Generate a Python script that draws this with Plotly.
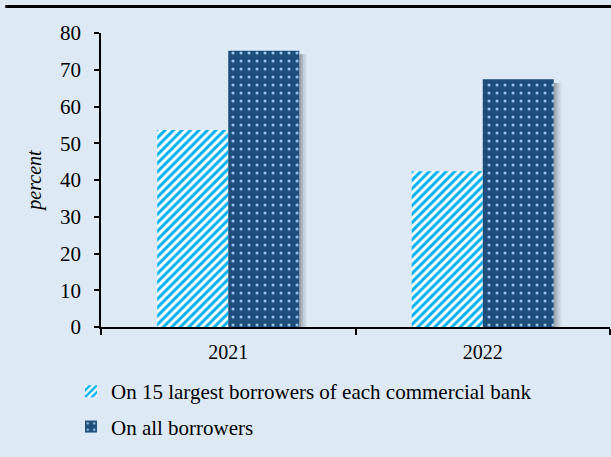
import plotly.graph_objects as go

years = ["2021", "2022"]
largest15 = [53.6, 42.4]
all_borrowers = [75.2, 67.4]
series_names = ["On 15 largest borrowers of each commercial bank", "On all borrowers"]

BG = "#DDEAF6"
FONT = "Liberation Serif"
BW = 0.279  # bar width in category units

fig = go.Figure()
fig.add_trace(go.Bar(
    x=years, y=largest15, name=series_names[0], legendgroup="a",
    offset=-BW, width=BW,
    marker=dict(color="white", line=dict(width=0),
                pattern=dict(shape="/", fgcolor="#00B0F0", bgcolor="white",
                             size=6, solidity=0.5, fillmode="replace")),
))
# soft shadow to the right of the dark bars
shadow_alphas = [0.45, 0.3, 0.18, 0.08]
step = 0.0075
for k, a in enumerate(shadow_alphas):
    fig.add_trace(go.Bar(
        x=years, y=[v - 1.0 for v in all_borrowers], showlegend=False, hoverinfo="skip",
        offset=BW + k * step, width=step,
        marker=dict(color=f"rgba(70,70,70,{a})", line=dict(width=0)),
    ))
fig.add_trace(go.Bar(
    x=years, y=all_borrowers, name=series_names[1], legendgroup="b",
    offset=0, width=BW,
    marker=dict(color="#1D4E7C", line=dict(width=0),
                pattern=dict(shape=".", fgcolor="#9CC3E6", bgcolor="#1D4E7C",
                             size=8, solidity=0.12, fillmode="replace")),
))

fig.update_layout(
    width=611, height=457,
    paper_bgcolor=BG, plot_bgcolor=BG,
    margin=dict(l=101, r=1, t=33, b=130),
    barmode="overlay",
    font=dict(family=FONT, size=19, color="black"),
    showlegend=True,
    legend=dict(orientation="v", x=-0.059, xanchor="left", y=-0.15, yanchor="top",
                font=dict(family=FONT, size=21, color="black"),
                tracegroupgap=5, bgcolor="rgba(0,0,0,0)", itemwidth=30),
    xaxis=dict(showline=True, linecolor="black", linewidth=1.5,
               ticks="outside", tickson="boundaries", ticklen=6, tickcolor="black",
               tickwidth=1.5, showgrid=False, tickfont=dict(size=20),
               ticklabelstandoff=6),
    yaxis=dict(range=[0, 80], dtick=10, showline=True, linecolor="black", linewidth=1.5,
               ticks="outside", ticklen=5, tickcolor="black", tickwidth=1.5,
               showgrid=False, zeroline=False, tickfont=dict(size=21),
               ticklabelstandoff=9,
               title=dict(text="<i>percent</i>", font=dict(size=20), standoff=13)),
    shapes=[dict(type="line", xref="paper", yref="paper", x0=-0.188, x1=1.002,
                 y0=1.09, y1=1.09, line=dict(color="black", width=3))],
)

fig.write_html("out.html")
